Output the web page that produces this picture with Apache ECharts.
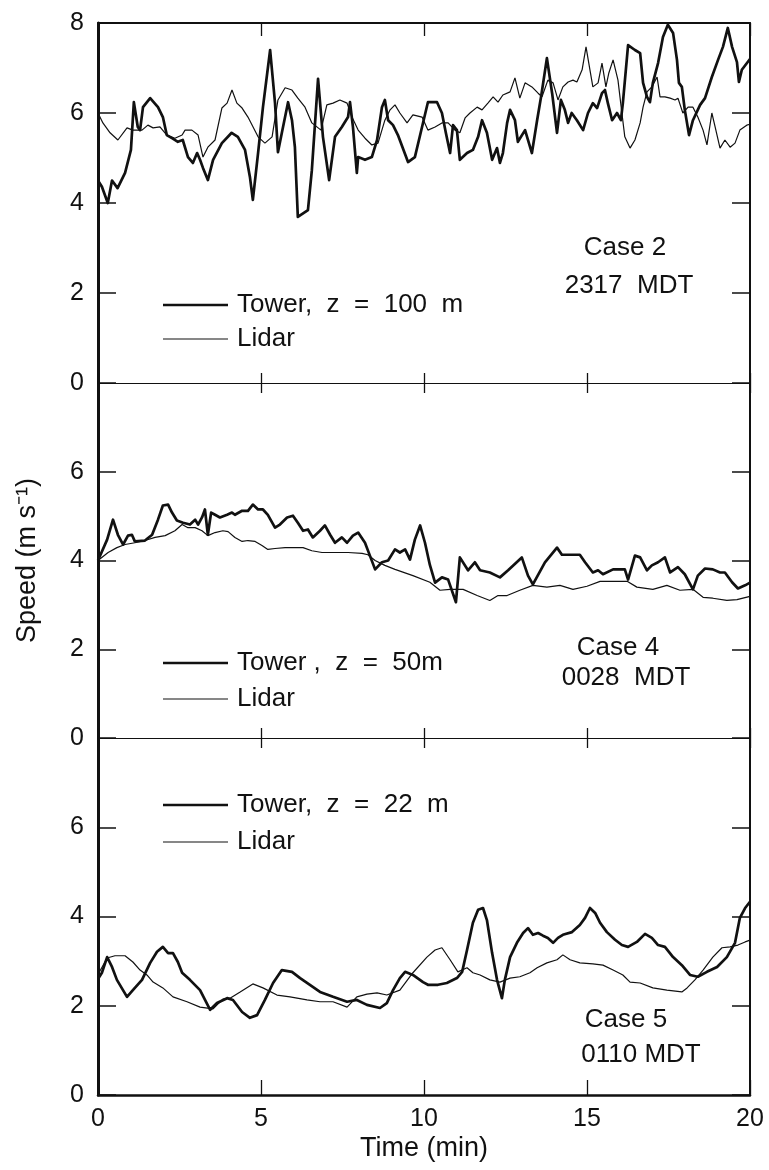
<!DOCTYPE html>
<html>
<head>
<meta charset="utf-8">
<script src="https://cdn.jsdelivr.net/npm/echarts@6/dist/echarts.min.js"></script>
<style>
  html, body { margin: 0; padding: 0; background: #fff; }
  #chart { width: 769px; height: 1170px; }
</style>
</head>
<body>
<div id="chart"></div>
<script>
// Axis ticks
const timeTicks = [0, 5, 10, 15, 20];
const speedTicks = [0, 2, 4, 6, 8];

// Case 2, 2317 MDT: [time (min), speed (m/s)]
const case2Tower = [[0,4.5],[0.12,4.36],[0.3,4.0],[0.43,4.5],[0.6,4.33],[0.83,4.67],[1.01,5.18],[1.1,6.24],[1.22,5.69],[1.29,5.62],[1.38,6.13],[1.6,6.33],[1.84,6.13],[1.99,5.91],[2.11,5.51],[2.27,5.44],[2.45,5.36],[2.6,5.4],[2.76,5.02],[2.91,4.89],[3.04,5.11],[3.13,4.96],[3.22,4.78],[3.37,4.51],[3.53,4.96],[3.8,5.33],[4.1,5.56],[4.29,5.47],[4.51,5.18],[4.66,4.58],[4.75,4.07],[4.91,5.11],[5.06,6.13],[5.28,7.4],[5.43,6.22],[5.52,5.13],[5.64,5.56],[5.83,6.24],[5.95,5.84],[6.04,5.24],[6.13,3.69],[6.44,3.84],[6.56,4.73],[6.75,6.76],[6.9,5.47],[7.09,4.51],[7.27,5.47],[7.48,5.69],[7.67,5.91],[7.73,6.24],[7.82,5.69],[7.94,4.67],[7.98,5.02],[8.19,4.96],[8.4,5.02],[8.56,5.4],[8.71,6.13],[8.8,6.29],[8.9,5.84],[9.05,5.73],[9.2,5.51],[9.51,4.91],[9.72,5.02],[9.94,5.69],[10.12,6.24],[10.4,6.24],[10.55,6.0],[10.67,5.56],[10.8,5.11],[10.89,5.73],[11.01,5.62],[11.1,4.96],[11.32,5.11],[11.5,5.18],[11.66,5.47],[11.78,5.84],[11.93,5.56],[12.09,4.96],[12.24,5.22],[12.33,4.89],[12.42,5.11],[12.55,5.78],[12.64,6.07],[12.79,5.84],[12.88,5.36],[13.1,5.62],[13.31,5.11],[13.47,5.84],[13.6,6.4],[13.77,7.22],[13.93,6.44],[14.08,5.56],[14.2,6.29],[14.32,6.07],[14.42,5.78],[14.53,6.0],[14.69,5.84],[14.88,5.62],[15.03,6.0],[15.18,6.22],[15.31,6.11],[15.46,6.44],[15.55,6.51],[15.64,6.22],[15.77,5.84],[15.92,6.0],[16.04,5.84],[16.1,6.22],[16.26,7.51],[16.47,7.4],[16.63,7.33],[16.72,6.67],[16.84,6.36],[16.93,6.24],[17.02,6.67],[17.18,7.11],[17.33,7.69],[17.48,7.96],[17.64,7.78],[17.76,7.18],[17.82,6.67],[17.91,6.58],[18.0,6.07],[18.13,5.51],[18.25,5.84],[18.47,6.18],[18.62,6.33],[18.83,6.8],[19.02,7.18],[19.17,7.47],[19.32,7.89],[19.45,7.47],[19.6,7.13],[19.66,6.69],[19.75,6.96],[20,7.2]];
const case2Lidar = [[0,6.0],[0.15,5.78],[0.37,5.56],[0.61,5.4],[0.89,5.67],[1.07,5.62],[1.35,5.62],[1.53,5.73],[1.69,5.67],[1.9,5.69],[2.11,5.51],[2.36,5.44],[2.58,5.51],[2.67,5.62],[2.88,5.62],[3.07,5.51],[3.22,5.02],[3.37,5.24],[3.59,5.4],[3.8,6.11],[3.96,6.22],[4.11,6.51],[4.26,6.22],[4.42,6.11],[4.6,5.91],[4.91,5.47],[5.12,5.33],[5.34,5.47],[5.52,6.29],[5.74,6.56],[5.95,6.51],[6.13,6.33],[6.35,6.13],[6.56,5.78],[6.84,5.62],[7.02,6.18],[7.21,6.22],[7.42,6.29],[7.64,6.22],[7.79,5.91],[7.98,5.62],[8.19,5.44],[8.4,5.29],[8.59,5.33],[8.8,5.84],[8.96,6.07],[9.11,6.18],[9.26,6.0],[9.48,5.78],[9.66,5.96],[9.94,5.91],[10.12,5.62],[10.34,5.69],[10.55,5.78],[10.74,5.78],[10.95,5.62],[11.1,5.56],[11.26,5.89],[11.41,6.0],[11.63,6.13],[11.78,6.07],[11.96,6.22],[12.12,6.36],[12.27,6.24],[12.42,6.4],[12.64,6.47],[12.79,6.78],[12.94,6.33],[13.1,6.67],[13.31,6.58],[13.5,6.44],[13.62,6.36],[13.8,6.73],[13.96,6.67],[14.11,6.29],[14.26,6.58],[14.42,6.69],[14.57,6.73],[14.69,6.69],[14.85,6.96],[14.97,7.47],[15.09,6.96],[15.18,6.58],[15.34,6.67],[15.46,7.11],[15.58,6.58],[15.67,6.89],[15.8,7.18],[15.95,6.73],[16.07,6.0],[16.16,5.47],[16.32,5.22],[16.47,5.4],[16.63,5.78],[16.72,6.13],[16.84,6.47],[16.99,6.58],[17.15,6.8],[17.24,6.36],[17.39,6.36],[17.55,6.33],[17.7,6.29],[17.79,6.33],[17.94,6.0],[18.1,6.13],[18.25,6.13],[18.4,5.91],[18.56,5.62],[18.68,5.29],[18.83,6.0],[18.93,5.69],[19.08,5.22],[19.23,5.4],[19.39,5.24],[19.54,5.33],[19.69,5.62],[19.9,5.73],[20,5.75]];

// Case 4, 0028 MDT
const case4Tower = [[0,4.0],[0.28,4.47],[0.46,4.92],[0.61,4.58],[0.77,4.36],[0.92,4.56],[1.04,4.58],[1.13,4.43],[1.44,4.45],[1.66,4.58],[1.84,4.92],[1.99,5.24],[2.15,5.26],[2.27,5.08],[2.42,4.9],[2.61,4.85],[2.82,4.81],[2.98,4.92],[3.07,4.81],[3.19,4.97],[3.28,5.15],[3.37,4.58],[3.47,5.08],[3.59,5.03],[3.74,4.97],[3.96,5.03],[4.11,5.08],[4.2,5.03],[4.42,5.12],[4.6,5.12],[4.75,5.26],[4.91,5.15],[5.06,5.15],[5.21,5.03],[5.43,4.74],[5.58,4.81],[5.8,4.97],[5.98,5.01],[6.13,4.85],[6.29,4.67],[6.44,4.7],[6.59,4.52],[6.81,4.67],[6.96,4.79],[7.12,4.58],[7.27,4.4],[7.48,4.52],[7.64,4.4],[7.82,4.56],[7.98,4.63],[8.19,4.4],[8.34,4.11],[8.5,3.8],[8.71,3.96],[8.9,4.0],[9.11,4.25],[9.26,4.18],[9.42,4.25],[9.57,4.02],[9.72,4.47],[9.88,4.79],[10.03,4.4],[10.18,3.9],[10.34,3.5],[10.55,3.62],[10.74,3.57],[10.98,3.06],[11.1,4.07],[11.35,3.78],[11.56,3.96],[11.72,3.78],[12.02,3.73],[12.33,3.62],[12.58,3.78],[13.0,4.07],[13.19,3.66],[13.34,3.46],[13.71,3.96],[14.08,4.29],[14.23,4.13],[14.78,4.13],[14.94,3.96],[15.18,3.73],[15.34,3.78],[15.49,3.69],[15.8,3.8],[16.16,3.8],[16.26,3.57],[16.47,4.11],[16.63,4.07],[16.84,3.78],[16.99,3.89],[17.18,3.96],[17.39,4.07],[17.55,3.73],[17.79,3.85],[18.0,3.69],[18.25,3.35],[18.4,3.66],[18.62,3.82],[18.86,3.8],[19.08,3.73],[19.23,3.73],[19.45,3.51],[19.63,3.37],[19.85,3.44],[20,3.5]];
const case4Lidar = [[0,4.0],[0.31,4.18],[0.58,4.29],[0.83,4.36],[1.13,4.4],[1.44,4.45],[1.75,4.52],[2.06,4.56],[2.36,4.67],[2.58,4.81],[2.76,4.74],[2.98,4.74],[3.19,4.67],[3.37,4.56],[3.59,4.63],[3.83,4.67],[3.99,4.65],[4.2,4.52],[4.42,4.43],[4.6,4.45],[4.82,4.43],[5.03,4.34],[5.21,4.25],[5.43,4.27],[5.74,4.29],[6.04,4.29],[6.29,4.29],[6.56,4.22],[6.87,4.18],[7.27,4.18],[7.67,4.18],[8.1,4.16],[8.28,4.13],[8.5,4.0],[8.8,3.89],[9.11,3.8],[9.66,3.66],[10.18,3.51],[10.49,3.33],[10.8,3.35],[11.2,3.35],[11.63,3.21],[12.02,3.1],[12.27,3.21],[12.55,3.21],[12.94,3.33],[13.34,3.44],[13.77,3.4],[14.17,3.44],[14.57,3.35],[15.0,3.42],[15.4,3.53],[15.8,3.53],[16.23,3.53],[16.53,3.4],[17.02,3.35],[17.45,3.44],[17.85,3.33],[18.25,3.35],[18.56,3.17],[18.86,3.15],[19.29,3.1],[19.6,3.12],[20,3.19]];

// Case 5, 0110 MDT
const case5Tower = [[0,2.6],[0.12,2.74],[0.28,3.09],[0.43,2.87],[0.58,2.58],[0.89,2.2],[1.07,2.35],[1.35,2.58],[1.6,2.96],[1.81,3.21],[1.99,3.32],[2.15,3.18],[2.3,3.18],[2.45,2.98],[2.58,2.74],[2.82,2.58],[3.13,2.35],[3.44,1.91],[3.65,2.06],[3.96,2.17],[4.14,2.13],[4.42,1.86],[4.66,1.73],[4.88,1.79],[5.12,2.13],[5.37,2.51],[5.64,2.8],[5.95,2.76],[6.2,2.62],[6.5,2.47],[6.81,2.31],[7.21,2.2],[7.64,2.09],[7.94,2.13],[8.25,2.02],[8.65,1.95],[8.86,2.06],[9.05,2.35],[9.26,2.62],[9.42,2.76],[9.66,2.69],[9.97,2.53],[10.12,2.47],[10.43,2.47],[10.7,2.51],[11.01,2.62],[11.17,2.76],[11.32,3.25],[11.5,3.86],[11.66,4.15],[11.81,4.19],[11.93,3.92],[12.09,3.18],[12.24,2.58],[12.39,2.17],[12.48,2.58],[12.64,3.09],[12.85,3.41],[13.04,3.63],[13.19,3.74],[13.34,3.59],[13.5,3.63],[13.65,3.57],[13.8,3.52],[13.96,3.41],[14.11,3.52],[14.26,3.59],[14.54,3.65],[14.78,3.81],[14.94,3.97],[15.09,4.19],[15.25,4.08],[15.4,3.86],[15.61,3.65],[15.86,3.48],[16.07,3.36],[16.26,3.32],[16.53,3.43],[16.78,3.61],[16.99,3.52],[17.18,3.36],[17.39,3.32],[17.64,3.09],[17.91,2.91],[18.16,2.69],[18.4,2.65],[18.68,2.76],[18.99,2.87],[19.29,3.09],[19.54,3.41],[19.69,3.97],[19.85,4.19],[20,4.33]];
const case5Lidar = [[0,2.7],[0.28,3.07],[0.52,3.12],[0.83,3.12],[1.07,2.98],[1.29,2.8],[1.5,2.69],[1.69,2.53],[1.99,2.4],[2.3,2.2],[2.73,2.09],[3.13,1.97],[3.53,1.93],[3.83,2.15],[4.05,2.17],[4.36,2.31],[4.75,2.49],[5.06,2.4],[5.49,2.24],[5.89,2.2],[6.41,2.13],[6.81,2.09],[7.21,2.09],[7.64,1.97],[7.94,2.2],[8.25,2.26],[8.56,2.29],[8.86,2.24],[9.26,2.35],[9.66,2.74],[10.09,3.09],[10.34,3.25],[10.55,3.3],[10.8,3.03],[11.04,2.76],[11.32,2.85],[11.5,2.74],[11.72,2.69],[12.02,2.58],[12.33,2.53],[12.64,2.62],[12.94,2.65],[13.25,2.74],[13.47,2.85],[13.77,2.96],[14.08,3.03],[14.26,3.14],[14.48,3.03],[14.78,2.96],[15.18,2.94],[15.49,2.91],[15.8,2.8],[16.1,2.69],[16.32,2.53],[16.63,2.51],[17.02,2.4],[17.45,2.35],[17.91,2.31],[18.07,2.4],[18.31,2.58],[18.56,2.8],[18.86,3.09],[19.14,3.3],[19.39,3.32],[19.63,3.36],[19.85,3.43],[20,3.47]];

// Panel texts
const towerNames = ['Tower,  z  =  100  m', 'Tower ,  z  =  50m', 'Tower,  z  =  22  m'];
const lidarName = 'Lidar';
const caseNames = ['Case 2', 'Case 4', 'Case 5'];
const caseTimes = ['2317  MDT', '0028  MDT', '0110 MDT'];
const towerSeries = [case2Tower, case4Tower, case5Tower];
const lidarSeries = [case2Lidar, case4Lidar, case5Lidar];

const INK = '#111';
const FONT = '"Liberation Sans", Arial, sans-serif';
const TOWER_WIDTH = 2.7;
const LIDAR_WIDTH = 1.2;

// Three stacked panels sharing the time axis range
const panelBoxes = [
  { top: 23, height: 360 },
  { top: 383, height: 355 },
  { top: 738, height: 357 }
];
const legendBoxes = [
  { top: 291, gap: 6 },
  { top: 649, gap: 8 },
  { top: 791, gap: 9 }
];
const caseTextPos = [
  [[625, 248], [629, 286]],
  [[618, 648], [626, 678]],
  [[626, 1020], [641, 1055]]
];

// Legend keys: a plain bar with the stroke's own thickness
function barIcon(w) {
  return 'path://M0,0H65V' + w + 'H0Z';
}

const grid = [], xAxis = [], yAxis = [], series = [], legend = [], graphic = [];

panelBoxes.forEach((b, i) => {
  const last = i === panelBoxes.length - 1;
  grid.push({ left: 98, width: 652, top: b.top, height: b.height, containLabel: false });

  // bottom time axis
  xAxis.push({
    gridIndex: i, type: 'value', position: 'bottom',
    min: timeTicks[0], max: timeTicks[timeTicks.length - 1], interval: timeTicks[1] - timeTicks[0],
    axisLine: { show: true, onZero: false, lineStyle: { color: INK, width: last ? 2.5 : 1.2 } },
    axisTick: { show: true, inside: true, length: last ? 15 : 10, lineStyle: { color: INK, width: 1.3 } },
    axisLabel: { show: last, color: INK, fontSize: 25, fontFamily: FONT, margin: 12 },
    splitLine: { show: false },
    name: last ? 'Time (min)' : '', nameLocation: 'middle', nameGap: 40,
    nameTextStyle: { color: INK, fontSize: 27, fontFamily: FONT }
  });
  // top time axis
  xAxis.push({
    gridIndex: i, type: 'value', position: 'top',
    min: timeTicks[0], max: timeTicks[timeTicks.length - 1], interval: timeTicks[1] - timeTicks[0],
    axisLine: { show: true, onZero: false, lineStyle: { color: INK, width: i === 0 ? 2 : 1.2 } },
    axisTick: { show: true, inside: true, length: i === 0 ? 13 : 10, lineStyle: { color: INK, width: 1.3 } },
    axisLabel: { show: false },
    splitLine: { show: false }
  });
  // left speed axis
  yAxis.push({
    gridIndex: i, type: 'value', position: 'left',
    min: speedTicks[0], max: speedTicks[speedTicks.length - 1], interval: speedTicks[1] - speedTicks[0],
    axisLine: { show: true, onZero: false, lineStyle: { color: INK, width: 3 } },
    axisTick: { show: true, inside: true, length: 18, lineStyle: { color: INK, width: 1.5 } },
    axisLabel: { color: INK, fontSize: 25, fontFamily: FONT, margin: 14, showMaxLabel: i === 0 },
    splitLine: { show: false },
    name: i === 1 ? 'Speed (m s\u207B\u00B9)' : '', nameLocation: 'middle', nameGap: 57, nameRotate: 90,
    nameTextStyle: { color: INK, fontSize: 27, fontFamily: FONT }
  });
  // right speed axis (frame with ticks only)
  yAxis.push({
    gridIndex: i, type: 'value', position: 'right',
    min: speedTicks[0], max: speedTicks[speedTicks.length - 1], interval: speedTicks[1] - speedTicks[0],
    axisLine: { show: true, onZero: false, lineStyle: { color: INK, width: 2 } },
    axisTick: { show: true, inside: true, length: 18, lineStyle: { color: INK, width: 1.5 } },
    axisLabel: { show: false },
    splitLine: { show: false }
  });

  series.push({
    type: 'line', name: lidarName, xAxisIndex: 2 * i, yAxisIndex: 2 * i,
    data: lidarSeries[i], symbol: 'none', smooth: false, clip: true, animation: false,
    lineStyle: { color: INK, width: LIDAR_WIDTH }, itemStyle: { color: INK }, z: 3
  });
  series.push({
    type: 'line', name: towerNames[i], xAxisIndex: 2 * i, yAxisIndex: 2 * i,
    data: towerSeries[i], symbol: 'none', smooth: false, clip: true, animation: false,
    lineStyle: { color: INK, width: TOWER_WIDTH, join: 'round' }, itemStyle: { color: INK }, z: 4
  });

  legend.push({
    orient: 'vertical', left: 163, top: legendBoxes[i].top,
    itemWidth: 65, itemHeight: 14, itemGap: legendBoxes[i].gap,
    selectedMode: false, padding: 0, symbolKeepAspect: true,
    data: [
      { name: towerNames[i], icon: barIcon(TOWER_WIDTH), itemStyle: { color: INK, borderWidth: 0 } },
      { name: lidarName, icon: barIcon(LIDAR_WIDTH), itemStyle: { color: INK, borderWidth: 0 } }
    ],
    textStyle: { color: INK, fontSize: 26, fontFamily: FONT, lineHeight: 28, padding: [0, 0, 0, 4] }
  });

  graphic.push({
    type: 'text', x: caseTextPos[i][0][0], y: caseTextPos[i][0][1],
    style: { text: caseNames[i], fill: INK, fontSize: 26, fontFamily: FONT, align: 'center', verticalAlign: 'middle' }
  });
  graphic.push({
    type: 'text', x: caseTextPos[i][1][0], y: caseTextPos[i][1][1],
    style: { text: caseTimes[i], fill: INK, fontSize: 26, fontFamily: FONT, align: 'center', verticalAlign: 'middle' }
  });
});

const chart = echarts.init(document.getElementById('chart'), null, { renderer: 'canvas' });
chart.setOption({
  backgroundColor: '#fff',
  animation: false,
  grid, xAxis, yAxis, series, legend, graphic
});
</script>
</body>
</html>
